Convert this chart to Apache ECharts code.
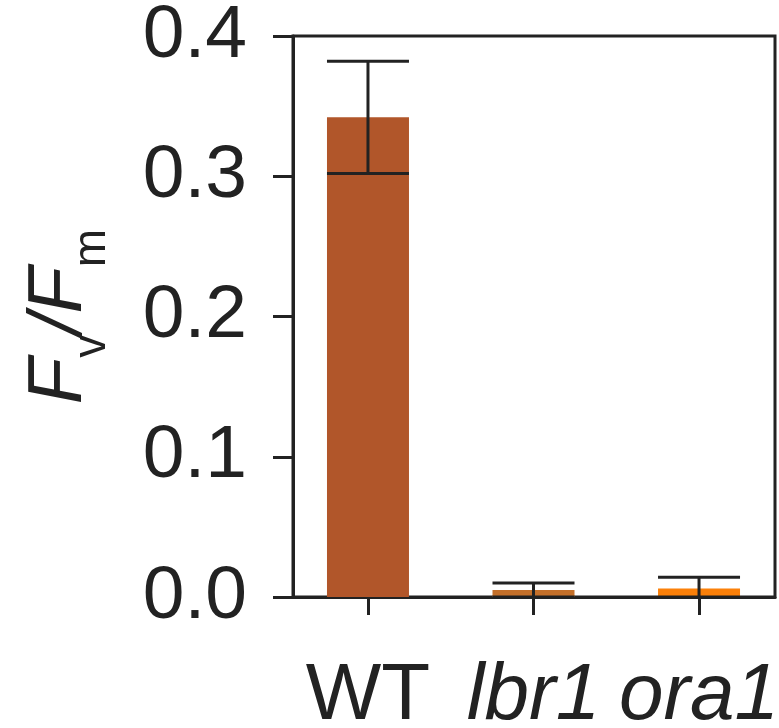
<!DOCTYPE html>
<html>
<head>
<meta charset="utf-8">
<script src="https://cdn.jsdelivr.net/npm/echarts@6/dist/echarts.min.js"></script>
<style>
  html, body { margin: 0; padding: 0; background: #fff; }
  #chart { width: 779px; height: 728px; }
</style>
</head>
<body>
<div id="chart"></div>
<script>
var categories = ['WT', 'lbr1', 'ora1'];
var italicCats = [false, true, true];
var means = [0.342, 0.005, 0.006];
var errors = [0.040, 0.005, 0.008];
var barColors = ['#b1562a', '#c4702a', '#fb8009'];
var yTicks = [0, 0.1, 0.2, 0.3, 0.4];

var FONT = 'Liberation Sans, Arial, sans-serif';
var INK = '#222';

var chart = echarts.init(document.getElementById('chart'));

var barData = [];
var errData = [];
for (var i = 0; i < categories.length; i++) {
    barData.push({ value: [i, means[i]], itemStyle: { color: barColors[i] } });
    errData.push([i, means[i], errors[i]]);
}

var option = {
    animation: false,
    grid: {
        left: 293, right: 4, top: 36, bottom: 131,
        outerBoundsMode: 'none',
        containLabel: false,
        show: true, borderColor: INK, borderWidth: 3
    },
    xAxis: {
        type: 'value',
        min: -0.453,
        max: 2.459,
        splitLine: { show: false },
        axisLine: { show: true, onZero: false, lineStyle: { color: INK, width: 3 } },
        axisTick: { show: true, length: 18, lineStyle: { color: INK, width: 3 }, customValues: [0, 1, 2] },
        axisLabel: {
            customValues: [0, 1, 2],
            margin: 60,
            formatter: function (v) {
                var k = Math.round(v);
                return (italicCats[k] ? '{i|' : '{n|') + categories[k] + '}';
            },
            rich: {
                n: { fontFamily: FONT, fontSize: 80, color: INK },
                i: { fontFamily: FONT, fontSize: 80, fontStyle: 'italic', color: INK }
            }
        }
    },
    yAxis: {
        type: 'value',
        min: yTicks[0],
        max: yTicks[yTicks.length - 1],
        interval: 0.1,
        splitLine: { show: false },
        axisLine: { show: true, onZero: false, lineStyle: { color: INK, width: 3 } },
        axisTick: { show: true, length: 20, lineStyle: { color: INK, width: 3 } },
        axisLabel: {
            margin: 46,
            fontFamily: FONT,
            fontSize: 75,
            color: INK,
            formatter: function (v) { return v.toFixed(1); }
        },
        name: '{f|F}{s|v}{f|/F}{s|m}',
        nameLocation: 'middle',
        nameGap: 178,
        nameRotate: 90,
        nameTextStyle: {
            rich: {
                f: { fontFamily: FONT, fontSize: 76, fontStyle: 'italic', color: INK, verticalAlign: 'middle', lineHeight: 76 },
                s: { fontFamily: FONT, fontSize: 46, color: INK, verticalAlign: 'bottom', lineHeight: 110 }
            }
        }
    },
    series: [
        {
            type: 'bar',
            barWidth: 82,
            data: barData,
            z: 1
        },
        {
            type: 'custom',
            z: 3,
            data: errData,
            encode: { x: 0, y: 1 },
            renderItem: function (params, api) {
                var x = api.value(0);
                var m = api.value(1);
                var e = api.value(2);
                var top = api.coord([x, m + e]);
                var bot = api.coord([x, Math.max(0, m - e)]);
                var half = 41;
                var style = { stroke: INK, lineWidth: 3 };
                return {
                    type: 'group',
                    children: [
                        { type: 'line', shape: { x1: top[0], y1: top[1], x2: bot[0], y2: bot[1] }, style: style },
                        { type: 'line', shape: { x1: top[0] - half, y1: top[1], x2: top[0] + half, y2: top[1] }, style: style },
                        { type: 'line', shape: { x1: bot[0] - half, y1: bot[1], x2: bot[0] + half, y2: bot[1] }, style: style }
                    ]
                };
            }
        }
    ]
};

chart.setOption(option);
</script>
</body>
</html>
